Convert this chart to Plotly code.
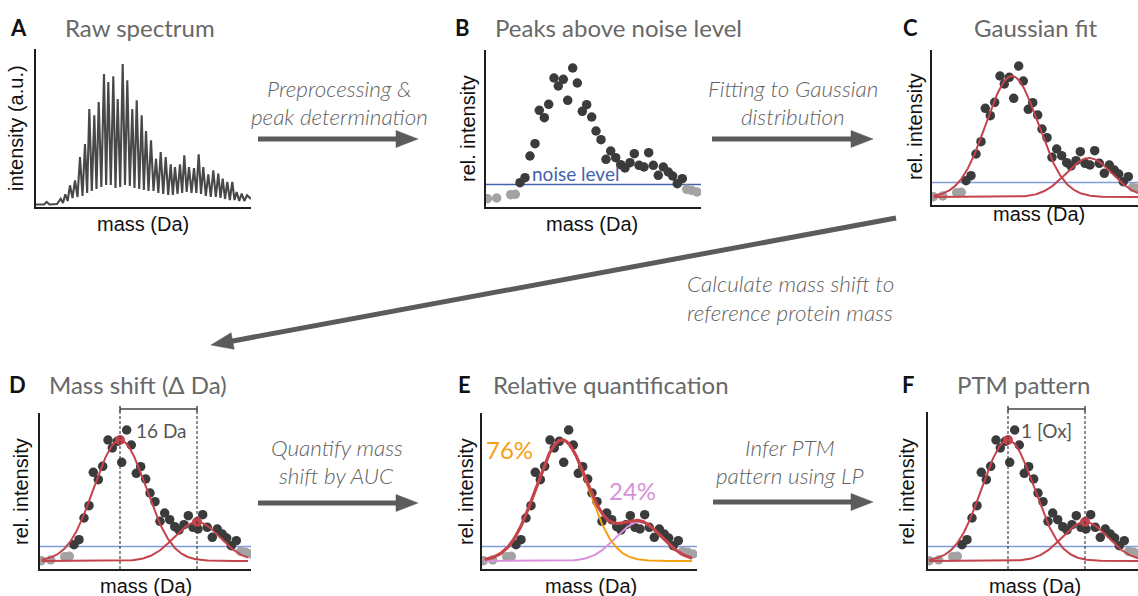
import numpy as np
import plotly.graph_objects as go

W_PX, H_PX = 1138, 596

# ---------------- data ----------------
# peaks below the noise level (grey points)
low_mass = [1.3, 10.7, 24.7, 29.3, 200.7, 205.7, 211.0]
low_intensity = [8.3, 9.0, 12.3, 12.7, 17.7, 16.7, 15.0]
# peaks above the noise level (dark points)
peak_mass = [34.0, 39.0, 44.0, 49.0, 53.3, 58.3, 62.7, 68.0, 72.3, 77.3, 81.7, 86.7,
             91.3, 96.3, 100.7, 105.7, 110.0, 115.0, 120.0, 124.7, 129.7, 134.7, 139.0,
             144.0, 148.3, 153.0, 158.0, 162.7, 167.3, 172.3, 177.3, 182.3, 186.7,
             191.3, 196.3]
peak_intensity = [24.3, 29.3, 51.0, 63.3, 96.7, 89.3, 102.7, 129.0, 121.0, 127.7, 106.7,
                  139.0, 124.0, 95.7, 102.3, 90.0, 76.0, 67.3, 47.7, 56.0, 49.3, 42.3,
                  39.0, 44.3, 53.3, 41.7, 40.0, 54.3, 41.7, 31.7, 40.0, 35.0, 31.0,
                  23.3, 28.3]
noise_level = 22.5

# raw spectrum (panel A)
raw_lead_mass = [0.0, 8.0, 10.7, 13.5, 21.0]
raw_lead_intensity = [2.5, 2.5, 5.0, 2.5, 3.0]
raw_peak_mass = [24.7, 29.3] + peak_mass + [200.7, 205.7, 211.0]
raw_peak_intensity = [8.3, 12.7, 21.7, 26.7, 50.0, 63.0, 98.0, 91.7, 105.0, 133.0, 125.0,
                      130.7, 108.0, 143.0, 126.7, 98.0, 106.7, 91.7, 76.0, 66.7, 48.3,
                      55.0, 50.0, 42.7, 40.0, 42.7, 51.7, 40.0, 39.0, 52.7, 40.0, 32.7,
                      36.7, 33.3, 28.3, 25.0, 25.0, 15.0, 13.3, 11.7]
raw_valley_intensity = [4, 6, 9, 10, 11, 14, 16, 18, 20, 22, 22, 19, 20, 22, 21, 19, 18,
                        17, 16, 16, 14, 13, 12, 12, 13, 14, 15, 14, 14, 13, 11, 10, 10,
                        9, 8, 7, 7, 6, 6]
raw_tail_mass = [215.0]
raw_tail_intensity = [8.0]

# Gaussian fit parameters
fit_center = [80.0, 157.0]
fit_sigma = [26.0, 23.0]
fit_amplitude = [121.0, 39.0]
fit_baseline = 8.0
fit_share = ["76%", "24%"]
shift_label = "16 Da"
ptm_label = "1 [Ox]"

# ---------------- style ----------------
DARK = "#3b3b3b"
GREY = "#a3a3a3"
RED = "#c5434b"
ORANGE = "#f5a013"
PINK = "#d991d9"
BLUE_B = "#4463ad"
BLUE = "#7f9cd8"
ARROW = "#5b5b5b"
TITLE_C = "#686868"
SANS = "Liberation Sans"
LATO = "Lato"


def px(x):
    return x / W_PX


def py(y):
    return 1 - y / H_PX


fig = go.Figure()
layout = dict(width=W_PX, height=H_PX, margin=dict(l=0, r=0, t=0, b=0),
              paper_bgcolor="white", plot_bgcolor="rgba(0,0,0,0)", showlegend=False)

panels = {
    1: dict(ox=36, oy=207, w=215, h=158),
    2: dict(ox=486, oy=207, w=215, h=157),
    3: dict(ox=932, oy=205, w=206, h=155),
    4: dict(ox=40, oy=569, w=211, h=156),
    5: dict(ox=482, oy=569, w=215, h=156),
    6: dict(ox=928, oy=569, w=210, h=157),
}


def add_axes(i, ox, oy, w, h, show=True):
    s = "" if i == 1 else str(i)
    layout["xaxis" + s] = dict(domain=[px(ox), px(ox + w)], range=[0, w], anchor="y" + s,
                               showline=show, linecolor="#1e1e1e", linewidth=2,
                               showgrid=False, zeroline=False, showticklabels=False,
                               ticks="", fixedrange=True)
    layout["yaxis" + s] = dict(domain=[py(oy), py(oy - h)], range=[0, h], anchor="x" + s,
                               showline=show, linecolor="#1e1e1e", linewidth=2,
                               showgrid=False, zeroline=False, showticklabels=False,
                               ticks="", fixedrange=True)


for i, p in panels.items():
    add_axes(i, **p)
# extended (invisible) subplots above D and F for the bracket
add_axes(7, panels[4]["ox"], panels[4]["oy"], panels[4]["w"], 170, show=False)
add_axes(8, panels[6]["ox"], panels[6]["oy"], panels[6]["w"], 170, show=False)


def ax(i):
    s = "" if i == 1 else str(i)
    return dict(xaxis="x" + s, yaxis="y" + s)


def gauss(x, k):
    return fit_amplitude[k] * np.exp(-(x - fit_center[k]) ** 2 / (2 * fit_sigma[k] ** 2))


# ---- panel A: raw spectrum ----
raw_x = list(raw_lead_mass)
raw_y = list(raw_lead_intensity)
for j, (m, v) in enumerate(zip(raw_peak_mass, raw_peak_intensity)):
    raw_x.append(m)
    raw_y.append(v)
    if j < len(raw_valley_intensity):
        raw_x.append((m + raw_peak_mass[j + 1]) / 2)
        raw_y.append(raw_valley_intensity[j])
raw_x += raw_tail_mass
raw_y += raw_tail_intensity
fig.add_trace(go.Scatter(x=raw_x, y=raw_y, mode="lines",
                         line=dict(color="#484848", width=2.1), **ax(1)))


def add_points(i, noise_color, noise_width):
    w = panels[i]["w"]
    fig.add_trace(go.Scatter(x=[0, w], y=[noise_level, noise_level], mode="lines",
                             line=dict(color=noise_color, width=noise_width), **ax(i)))
    fig.add_trace(go.Scatter(x=low_mass, y=low_intensity, mode="markers",
                             marker=dict(color=GREY, size=9.5), **ax(i)))
    fig.add_trace(go.Scatter(x=peak_mass, y=peak_intensity, mode="markers",
                             marker=dict(color=DARK, size=9.5), **ax(i)))


# ---- panel B ----
add_points(2, BLUE_B, 1.5)

# ---- panel C, D, F: two Gaussians ----
for i, x0, x1 in [(3, 1.7, 206), (4, 1.7, 208), (6, 1.0, 210)]:
    add_points(i, BLUE, 1.3)
    xs = np.linspace(x0, x1, 300)
    for k in range(2):
        fig.add_trace(go.Scatter(x=xs, y=fit_baseline + gauss(xs, k), mode="lines",
                                 line=dict(color=RED, width=2), **ax(i)))

# peak markers in D and F
for i in (4, 6):
    fig.add_trace(go.Scatter(x=fit_center,
                             y=[fit_baseline + a for a in fit_amplitude], mode="markers",
                             marker=dict(color=RED, size=10), **ax(i)))

# bracket + dashed lines for D and F
for i in (7, 8):
    for c in fit_center:
        fig.add_trace(go.Scatter(x=[c, c], y=[0, 160], mode="lines",
                                 line=dict(color="#333333", width=1.1, dash="3px,2px"),
                                 **ax(i)))
        fig.add_trace(go.Scatter(x=[c, c], y=[157, 163], mode="lines",
                                 line=dict(color="#444444", width=1.5), **ax(i)))
    fig.add_trace(go.Scatter(x=fit_center, y=[160, 160], mode="lines",
                             line=dict(color="#444444", width=1.5), **ax(i)))

# ---- panel E: relative quantification ----
add_points(5, BLUE, 1.3)
xs = np.linspace(2.7, 210, 300)
fig.add_trace(go.Scatter(x=xs, y=fit_baseline + gauss(xs, 1), mode="lines",
                         line=dict(color=PINK, width=2), **ax(5)))
fig.add_trace(go.Scatter(x=xs, y=fit_baseline + gauss(xs, 0), mode="lines",
                         line=dict(color=ORANGE, width=2), **ax(5)))
fig.add_trace(go.Scatter(x=xs, y=fit_baseline + gauss(xs, 0) + gauss(xs, 1), mode="lines",
                         line=dict(color=RED, width=3.2), **ax(5)))

# ---------------- arrows ----------------
shapes = []


def arrow(x0, y0, x1, y1, head_len=22, head_half=8.5, width=5):
    dx, dy = x1 - x0, y1 - y0
    L = (dx * dx + dy * dy) ** 0.5
    ux, uy = dx / L, dy / L
    bx, by = x1 - ux * head_len, y1 - uy * head_len
    nx, ny = -uy, ux
    shapes.append(dict(type="line", xref="paper", yref="paper",
                       x0=px(x0), y0=py(y0), x1=px(bx + ux), y1=py(by + uy),
                       line=dict(color=ARROW, width=width)))
    pts = [(x1, y1), (bx + nx * head_half, by + ny * head_half),
           (bx - nx * head_half, by - ny * head_half)]
    path = "M " + " L ".join(f"{px(a):.5f},{py(b):.5f}" for a, b in pts) + " Z"
    shapes.append(dict(type="path", xref="paper", yref="paper", path=path,
                       fillcolor=ARROW, line=dict(color=ARROW, width=0.5)))


arrow(258, 139, 418, 139)
arrow(712, 139, 873, 139)
arrow(896, 218, 211, 345)
arrow(258, 503, 418, 503)
arrow(713, 502, 873, 502)
layout["shapes"] = shapes

# ---------------- text ----------------
annotations = []


def text(t, x, y, size, color, family=LATO, xanchor="center", weight=400,
         style="normal", angle=0):
    annotations.append(dict(text=t, x=px(x), y=py(y), xref="paper", yref="paper",
                            xanchor=xanchor, yanchor="middle", showarrow=False,
                            textangle=angle,
                            font=dict(size=size, color=color, family=family,
                                      weight=weight, style=style)))


# panel letters and titles
for letter, lx, ly, title, tx in [("A", 18, 27, "Raw spectrum", 63),
                                  ("B", 462, 27, "Peaks above noise level", 493),
                                  ("C", 910, 27, "Gaussian fit", 972),
                                  ("D", 17, 384, "Mass shift (\u0394 Da)", 47),
                                  ("E", 464, 384, "Relative quantification", 491),
                                  ("F", 908, 384, "PTM pattern", 955)]:
    text(letter, lx, ly, 22, "#111111", weight=700)
    text(title, tx, ly, 24, TITLE_C, xanchor="left")

# axis titles
for x, y in [(143, 224), (592, 224), (1039, 214), (146, 586), (591, 586), (1035, 586)]:
    text("mass (Da)", x, y, 20, "#111111", family=SANS)
text("intensity (a.u.)", 16, 128, 20, "#111111", family=SANS, angle=-90)
for x, y in [(468, 128), (915, 127), (21, 492), (466, 492), (907, 492)]:
    text("rel. intensity", x, y, 20, "#111111", family=SANS, angle=-90)

# in-panel labels
text("noise level", 530, 174, 19, BLUE_B, xanchor="left")
text(shift_label, 134, 430, 19, "#555555", xanchor="left")
text(ptm_label, 1019, 430, 19, "#555555", xanchor="left")
text(fit_share[0], 509, 449, 24, ORANGE)
text(fit_share[1], 632, 490, 24, PINK)

# arrow labels
for t, x, y in [("Preprocessing &", 339, 88), ("peak determination", 339, 117),
                ("Fitting to Gaussian", 793, 88), ("distribution", 793, 117),
                ("Calculate mass shift to", 790, 283), ("reference protein mass", 790, 312),
                ("Quantify mass", 337, 447), ("shift by AUC", 337, 475),
                ("Infer PTM", 790, 447), ("pattern using LP", 790, 475)]:
    text(t, x, y, 22.5, "#626262", weight=300, style="italic")

layout["annotations"] = annotations
fig.update_layout(**layout)
fig.write_html("out.html")
